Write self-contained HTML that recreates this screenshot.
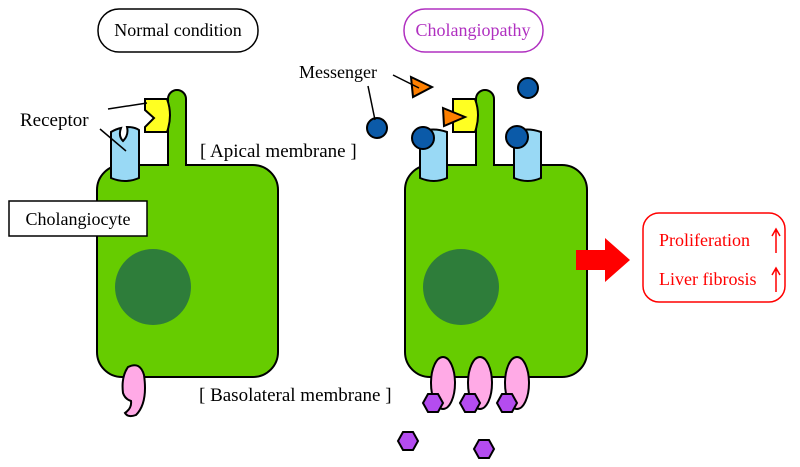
<!DOCTYPE html>
<html><head><style>body{margin:0;background:#fff}svg{display:block}text{font-family:"Liberation Serif",serif}</style></head><body>
<svg width="800" height="467" viewBox="0 0 800 467" xmlns="http://www.w3.org/2000/svg">
<g stroke="#000" stroke-width="2">
<path d="M168,165 V99 a9,9 0 0 1 18,0 V165 H253 a25,25 0 0 1 25,25 V352 a25,25 0 0 1 -25,25 H122 a25,25 0 0 1 -25,-25 V190 a25,25 0 0 1 25,-25 Z" fill="#66cc00"/>
<path d="M476,165 V99 a9,9 0 0 1 18,0 V165 H562 a25,25 0 0 1 25,25 V352 a25,25 0 0 1 -25,25 H430 a25,25 0 0 1 -25,-25 V190 a25,25 0 0 1 25,-25 Z" fill="#66cc00"/>
</g>
<circle cx="153" cy="287" r="38" fill="#2e7d3a"/>
<circle cx="461" cy="287" r="38" fill="#2e7d3a"/>
<g stroke="#000" stroke-width="2">
<path d="M111,132 q5,-3 10,-4 q-3,8 2,13 q6,-6 4,-14 q8,0 12,3 V178 q-14,6 -28,0 Z" fill="#99d9f5"/>
<path d="M145,99 H167 q6,16 0,33 H145 V127 L154,118 L145,110 Z" fill="#ffff22"/>
<path d="M420,132 q13,-5 27,0 V178 q-13,6 -27,0 Z" fill="#99d9f5"/>
<path d="M514,132 q13,-5 27,0 V178 q-13,6 -27,0 Z" fill="#99d9f5"/>
<path d="M453,99 H475 q6,16 0,33 H453 Z" fill="#ffff22"/>
<path d="M443,108 L465,117 L444,126 Z" fill="#ff8000"/>
<path d="M411,77 L432,87 L413,97 Z" fill="#ff8000"/>
<circle cx="423" cy="138" r="11" fill="#0b5aa8"/>
<circle cx="517" cy="137" r="11" fill="#0b5aa8"/>
<circle cx="377" cy="128" r="10" fill="#0b5aa8"/>
<circle cx="528" cy="88" r="10" fill="#0b5aa8"/>
<path d="M128,367 q12,-6 16,8 q4,28 -8,40 q-8,3 -11,-2 q7,-5 6,-12 q-6,-2 -8,-8 q-2,-16 5,-26 Z" fill="#ffaae6"/>
<ellipse cx="443" cy="383" rx="12" ry="26" fill="#ffaae6"/>
<ellipse cx="480" cy="383" rx="12" ry="26" fill="#ffaae6"/>
<ellipse cx="517" cy="383" rx="12" ry="26" fill="#ffaae6"/>
<g fill="#b44cf0">
<path d="M423,403 l5,-9 h10 l5,9 l-5,9 h-10 Z"/>
<path d="M460,403 l5,-9 h10 l5,9 l-5,9 h-10 Z"/>
<path d="M497,403 l5,-9 h10 l5,9 l-5,9 h-10 Z"/>
<path d="M398,441 l5,-9 h10 l5,9 l-5,9 h-10 Z"/>
<path d="M474,449 l5,-9 h10 l5,9 l-5,9 h-10 Z"/>
</g>
</g>
<g stroke="#000" stroke-width="1.5">
<line x1="108" y1="109" x2="147" y2="103"/>
<line x1="100" y1="129" x2="126" y2="151"/>
<line x1="393" y1="75" x2="419" y2="88"/>
<line x1="368" y1="86" x2="375" y2="120"/>
</g>
<rect x="98" y="9" width="160" height="43" rx="21" fill="#fff" stroke="#000" stroke-width="1.5"/>
<text x="178" y="36" font-size="18" text-anchor="middle">Normal condition</text>
<rect x="404" y="9" width="139" height="43" rx="21" fill="#fff" stroke="#b030c0" stroke-width="1.5"/>
<text x="473" y="36" font-size="18" text-anchor="middle" fill="#b030c0">Cholangiopathy</text>
<text x="20" y="126" font-size="19">Receptor</text>
<text x="299" y="78" font-size="18">Messenger</text>
<rect x="9" y="201" width="138" height="35" fill="#fff" stroke="#000" stroke-width="1.5"/>
<text x="78" y="225" font-size="18" text-anchor="middle">Cholangiocyte</text>
<text x="200" y="157" font-size="19">[ Apical membrane ]</text>
<text x="199" y="401" font-size="19">[ Basolateral membrane ]</text>
<path d="M576,250 H605 V238 L630,260 L605,282 V270 H576 Z" fill="#ff0000"/>
<rect x="643" y="213" width="142" height="89" rx="16" fill="#fff" stroke="#ff0000" stroke-width="1.5"/>
<text x="659" y="246" font-size="18" fill="#ff0000">Proliferation</text>
<text x="659" y="285" font-size="18" fill="#ff0000">Liver fibrosis</text>
<g stroke="#ff0000" stroke-width="1.5" fill="none">
<path d="M776,253 V230 M772,236 L776,229 L780,236"/>
<path d="M776,292 V269 M772,275 L776,268 L780,275"/>
</g>
</svg>
</body></html>
